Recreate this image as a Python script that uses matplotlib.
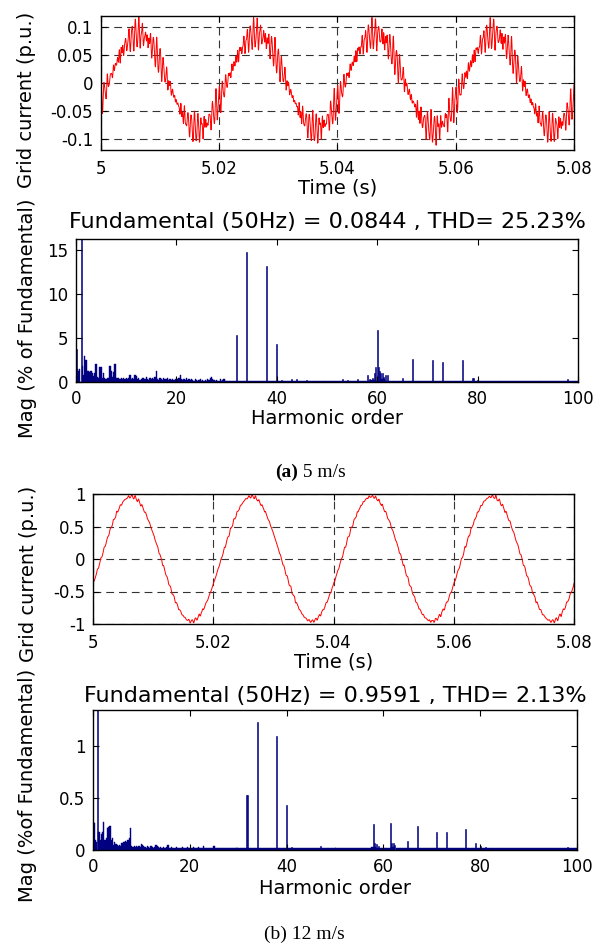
import numpy as np
import matplotlib
matplotlib.use("Agg")
import matplotlib.pyplot as plt

plt.rcParams['font.family'] = 'DejaVu Sans'
plt.rcParams['axes.unicode_minus'] = False

W, H = 611, 944

# ---------------- (a) 5 m/s ----------------
FUND_A = 0.0844
THD_A = 25.23
# bars that stand out: harmonic order, magnitude (% of fundamental), phase (rad)
PEAK_ORDER_A = [0, 1, 32, 34, 38, 40, 58, 59.5, 59.75, 60, 60.25, 60.5, 61.75, 62, 65, 67, 71, 73, 77, 79, 79.25, 98]
PEAK_MAG_A = [3.7, 100, 5.3, 14.8, 13.2, 4.3, 0.8, 1.0, 1.7, 5.9, 1.7, 1.2, 0.8, 0.8, 0.5, 2.6, 2.5, 2.3, 2.5, 0.4, 0.4, 0.3]
PEAK_PHASE_A = [1.57, -0.42, 0.3, 1.9, 1.6, 2.5, 0.0, 1.0, 2.0, -0.8, 0.4, 1.3, -2.0, 0.7, 1.1, -0.3, 2.2, -1.7, 0.9, 0.0, 1.5, 0.0]
# small single bars above the floor
BUMP_ORDER_A = [41, 43, 44, 46, 53, 54, 56, 58.5, 59, 60.75, 61, 61.25, 80]
BUMP_MAG_A = [0.2, 0.3, 0.3, 0.2, 0.3, 0.2, 0.3, 0.3, 0.4, 1.0, 1.0, 0.6, 0.2]
# low level bars, orders 0, 0.25, ... 29.75
LOW_MAG_A = [1.5, 1.5, 1.3, 1.5, 0.0, 1.8, 0.8, 2.9, 2.5, 1.2, 1.2, 1.1,
             1.2, 1.0, 0.7, 1.0, 2.0, 0.6, 0.4, 1.7, 1.7, 0.5, 1.0, 0.4,
             0.3, 0.5, 0.4, 1.8, 1.2, 0.6, 1.1, 2.0, 0.5, 0.4, 0.5, 0.3,
             0.5, 0.3, 0.4, 0.3, 0.4, 0.3, 0.5, 0.8, 0.3, 0.4, 0.3, 0.8,
             0.7, 0.3, 0.4, 0.2, 0.3, 0.4, 0.5, 0.3, 0.6, 0.3, 0.2, 0.4,
             0.3, 0.5, 0.3, 0.6, 1.2, 0.3, 0.2, 0.4, 0.3, 0.2, 0.4, 0.3,
             0.3, 0.4, 0.2, 0.3, 0.2, 0.3, 0.2, 0.3, 0.2, 0.3, 0.4, 0.8,
             0.3, 0.2, 0.3, 0.2, 0.5, 0.2, 0.3, 0.2, 0.3, 0.2, 0.1, 0.3,
             0.2, 0.1, 0.2, 0.3, 0.1, 0.2, 0.1, 0.2, 0.1, 0.3, 0.2, 0.5,
             0.6, 0.3, 0.2, 0.1, 0.2, 0.1, 0.1, 0.3, 0.1, 0.2, 0.3, 0.1]
# floor, orders 30, 31, ... 100
HIGH_MAG_A = [0.15, 0.1, 0.1, 0.1, 0.1, 0.1, 0.1, 0.1, 0.1, 0.1,
              0.1, 0.1, 0.1, 0.15, 0.15, 0.1, 0.1, 0.1, 0.1, 0.1,
              0.1, 0.1, 0.1, 0.15, 0.1, 0.1, 0.15, 0.1, 0.15, 0.2,
              0.15, 0.3, 0.15, 0.1, 0.1, 0.1, 0.1, 0.1, 0.1, 0.1,
              0.1, 0.1, 0.1, 0.1, 0.1, 0.1, 0.1, 0.1, 0.1, 0.1,
              0.15, 0.1, 0.1, 0.1, 0.1, 0.1, 0.1, 0.1, 0.1, 0.1,
              0.1, 0.1, 0.1, 0.1, 0.1, 0.1, 0.1, 0.1, 0.15, 0.1, 0.1]

# ---------------- (b) 12 m/s ----------------
FUND_B = 0.9591
THD_B = 2.13
PEAK_ORDER_B = [0, 1, 31.75, 32, 34, 38, 40, 58, 61.5, 65, 67, 71, 73, 77, 79, 98]
PEAK_MAG_B = [0.27, 100, 0.53, 0.53, 1.23, 1.1, 0.43, 0.25, 0.26, 0.09, 0.23, 0.17, 0.17, 0.2, 0.07, 0.03]
PEAK_PHASE_B = [1.57, -0.42, 0.3, 0.8, 1.9, -1.2, 2.5, 0.0, 0.7, 1.1, -0.3, 2.2, -1.7, 0.9, 0.0, 0.0]
BUMP_ORDER_B = [41, 47, 50, 58.25, 58.5, 59, 61.75, 62, 62.25, 80, 81]
BUMP_MAG_B = [0.03, 0.04, 0.03, 0.07, 0.06, 0.04, 0.07, 0.07, 0.05, 0.04, 0.03]
LOW_MAG_B = [0.27, 0.26, 0.10, 0.08, 0.00, 0.17, 0.10, 0.15, 0.17, 0.27, 0.10, 0.12,
             0.21, 0.22, 0.23, 0.10, 0.12, 0.05, 0.08, 0.06, 0.05, 0.04, 0.05, 0.04,
             0.07, 0.08, 0.08, 0.09, 0.08, 0.10, 0.12, 0.21, 0.04, 0.03, 0.04, 0.03,
             0.04, 0.03, 0.04, 0.03, 0.06, 0.05, 0.04, 0.03, 0.02, 0.04, 0.03, 0.02,
             0.04, 0.03, 0.02, 0.03, 0.05, 0.04, 0.03, 0.02, 0.03, 0.02, 0.03, 0.02,
             0.02, 0.03, 0.05, 0.02, 0.02, 0.03, 0.02, 0.02, 0.02, 0.03, 0.02, 0.02,
             0.02, 0.02, 0.03, 0.02, 0.02, 0.02, 0.03, 0.02, 0.02, 0.02, 0.02, 0.03,
             0.02, 0.02, 0.02, 0.03, 0.02, 0.02, 0.02, 0.04, 0.02, 0.02, 0.02, 0.02,
             0.02, 0.02, 0.02, 0.02, 0.04, 0.02, 0.02, 0.02, 0.02, 0.02, 0.02, 0.02,
             0.02, 0.02, 0.02, 0.02, 0.02, 0.02, 0.02, 0.02, 0.02, 0.02, 0.02, 0.02]
HIGH_MAG_B = [0.02, 0.02, 0.02, 0.02, 0.02, 0.02, 0.02, 0.02, 0.02, 0.02,
              0.02, 0.02, 0.02, 0.02, 0.02, 0.02, 0.02, 0.02, 0.02, 0.02,
              0.02, 0.02, 0.02, 0.02, 0.02, 0.02, 0.02, 0.02, 0.03, 0.02,
              0.02, 0.02, 0.03, 0.02, 0.02, 0.02, 0.02, 0.02, 0.02, 0.02,
              0.02, 0.02, 0.02, 0.02, 0.02, 0.02, 0.02, 0.02, 0.02, 0.02,
              0.02, 0.02, 0.02, 0.02, 0.02, 0.02, 0.02, 0.02, 0.02, 0.02,
              0.02, 0.02, 0.02, 0.02, 0.02, 0.02, 0.02, 0.02, 0.02, 0.02, 0.02]

TIME_TICKS = [5, 5.02, 5.04, 5.06, 5.08]
TIME_LABELS = ['5', '5.02', '5.04', '5.06', '5.08']
CUR_TICKS_A = [-0.1, -0.05, 0, 0.05, 0.1]
CUR_LABELS_A = ['-0.1', '-0.05', '0', '0.05', '0.1']
CUR_TICKS_B = [-1, -0.5, 0, 0.5, 1]
CUR_LABELS_B = ['-1', '-0.5', '0', '0.5', '1']
MAG_TICKS_A = [0, 5, 10, 15]
MAG_TICKS_B = [0, 0.5, 1]
MAG_LABELS_B = ['0', '0.5', '1']
ORDER_TICKS = [0, 20, 40, 60, 80, 100]

RED = '#ff0000'
NAVY = '#000080'


def px_axes(fig, left, top, right, bottom):
    # axes box given in pixels of the 611x944 picture
    return fig.add_axes([left / W, 1 - bottom / H, (right - left) / W, (bottom - top) / H])


def style(ax):
    ax.tick_params(direction='in', length=4, width=0.8, top=True, right=True, labelsize=12)
    ax.tick_params(axis='x', pad=7)
    ax.tick_params(axis='y', pad=5.5)
    for s in ax.spines.values():
        s.set_linewidth(1.0)


def grid_current(fund, orders, mags, phases, t):
    # trace rebuilt from the harmonic bars
    wt = 2 * np.pi * 50 * (t - 5.0)
    i = np.zeros_like(t)
    for h, m, p in zip(orders, mags, phases):
        i += m / 100 * np.sin(h * wt + p)
    return fund * i


def ftext(x, y, s, **kw):
    fig.text(x / W, 1 - y / H, s, **kw)


fig = plt.figure(figsize=(W / 100, H / 100), dpi=100)
t = np.arange(5.0, 5.08 + 2.5e-5, 5e-5)

panels = [
    dict(fund=FUND_A, thd=THD_A, po=PEAK_ORDER_A, pm=PEAK_MAG_A, pp=PEAK_PHASE_A,
         bo=BUMP_ORDER_A, bm=BUMP_MAG_A,
         low=LOW_MAG_A, high=HIGH_MAG_A, cur_ticks=CUR_TICKS_A, cur_labels=CUR_LABELS_A,
         ylim_t=(-0.12, 0.12), mag_ticks=MAG_TICKS_A, mag_labels=[str(v) for v in MAG_TICKS_A],
         ylim_f=(0, 16.25), box_t=(101, 16, 574, 150), box_f=(76, 239, 578, 382),
         yl_t=(27, 100), yl_f=(28, 318), xl_t=193, xl_f=423.5, title_y=228,
         mag_label='Mag (% of Fundamental)'),
    dict(fund=FUND_B, thd=THD_B, po=PEAK_ORDER_B, pm=PEAK_MAG_B, pp=PEAK_PHASE_B,
         bo=BUMP_ORDER_B, bm=BUMP_MAG_B,
         low=LOW_MAG_B, high=HIGH_MAG_B, cur_ticks=CUR_TICKS_B, cur_labels=CUR_LABELS_B,
         ylim_t=(-1, 1), mag_ticks=MAG_TICKS_B, mag_labels=MAG_LABELS_B,
         ylim_f=(0, 1.346), box_t=(93, 494, 574, 624), box_f=(93, 710, 577, 850),
         yl_t=(29, 574), yl_f=(28, 785), xl_t=667, xl_f=894, title_y=702,
         mag_label='Mag (%of Fundamental)'),
]

for p in panels:
    # time trace
    ax = px_axes(fig, *p['box_t'])
    ax.plot(t, grid_current(p['fund'], p['po'], p['pm'], p['pp'], t), color=RED, linewidth=0.7)
    ax.set_xlim(5, 5.08)
    ax.set_ylim(*p['ylim_t'])
    ax.set_xticks(TIME_TICKS)
    ax.set_xticklabels(TIME_LABELS)
    ax.set_yticks(p['cur_ticks'])
    ax.set_yticklabels(p['cur_labels'])
    ax.grid(True, linestyle=(0, (7, 4.5)), color='0.2', linewidth=0.8)
    style(ax)
    l, tp, r, b = p['box_t']
    ftext((l + r) / 2, p['xl_t'], 'Time (s)', ha='center', va='baseline', fontsize=14)
    ftext(p['yl_t'][0], p['yl_t'][1], 'Grid current (p.u.)', rotation=90,
          ha='center', va='center', fontsize=14)

    # harmonic spectrum: dense low-level floor, then the distinct bars on top
    ax = px_axes(fig, *p['box_f'])
    ax.bar(np.arange(0, 30, 0.25), p['low'], width=0.25, color=NAVY, edgecolor=NAVY, linewidth=0.3)
    ax.bar(np.arange(30, 101, 1.0), p['high'], width=1.0, color=NAVY, edgecolor=NAVY, linewidth=0.3)
    ax.bar(p['bo'], p['bm'], width=0.2, color=NAVY, edgecolor=NAVY, linewidth=0.4)
    ax.bar(p['po'], p['pm'], width=0.2, color=NAVY, edgecolor=NAVY, linewidth=0.4)
    ax.set_xlim(0, 100)
    ax.set_ylim(*p['ylim_f'])
    ax.set_xticks(ORDER_TICKS)
    ax.set_yticks(p['mag_ticks'])
    ax.set_yticklabels(p['mag_labels'])
    style(ax)
    ax.tick_params(axis='x', pad=6)
    l, tp, r, b = p['box_f']
    ftext((l + r) / 2, p['title_y'],
          'Fundamental (50Hz) = %.4f , THD= %.2f%%' % (p['fund'], p['thd']),
          ha='center', va='baseline', fontsize=16)
    ftext((l + r) / 2, p['xl_f'], 'Harmonic order', ha='center', va='baseline', fontsize=14)
    ftext(p['yl_f'][0], p['yl_f'][1], p['mag_label'], rotation=90,
          ha='center', va='center', fontsize=14)

# captions
ftext(298, 477, '(a)', ha='right', va='baseline', fontsize=14,
      family='Liberation Serif', fontweight='bold')
ftext(298, 477, ' 5 m/s', ha='left', va='baseline', fontsize=14, family='Liberation Serif')
ftext(304, 939, '(b) 12 m/s', ha='center', va='baseline', fontsize=14, family='Liberation Serif')

fig.savefig('out.png', dpi=100)
